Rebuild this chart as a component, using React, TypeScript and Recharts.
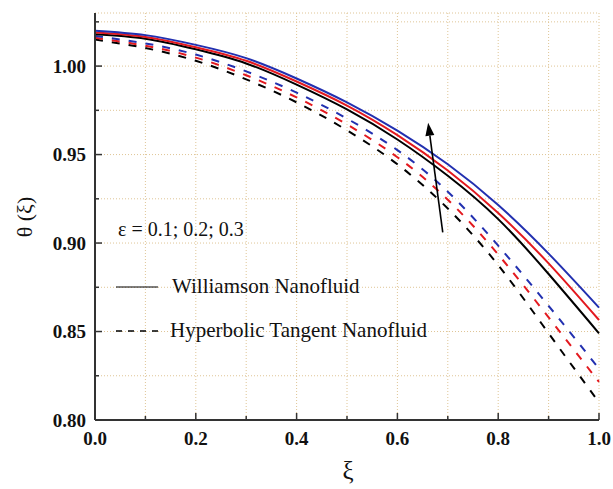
import { LineChart, Line, XAxis, YAxis, CartesianGrid, ReferenceLine, Customized } from "recharts";

const FONT = '"Liberation Serif", "Times New Roman", serif';

// values
const xi = [0, 0.1, 0.2, 0.3, 0.4, 0.5, 0.6, 0.7, 0.8, 0.9, 1.0];
const williamson01 = [1.018, 1.0155, 1.0095, 1.0015, 0.9895, 0.9755, 0.9585, 0.938, 0.9135, 0.8825, 0.849];
const williamson02 = [1.019, 1.0165, 1.0107, 1.003, 0.9913, 0.9777, 0.961, 0.941, 0.917, 0.8885, 0.8565];
const williamson03 = [1.02, 1.0175, 1.012, 1.0045, 0.993, 0.9795, 0.9635, 0.9445, 0.9215, 0.894, 0.8635];
const hyperbolic01 = [1.015, 1.0102, 1.003, 0.9925, 0.9795, 0.9637, 0.9445, 0.9195, 0.8875, 0.849, 0.81];
const hyperbolic02 = [1.016, 1.0115, 1.0048, 0.9948, 0.9823, 0.967, 0.9485, 0.9245, 0.8935, 0.858, 0.8215];
const hyperbolic03 = [1.017, 1.0128, 1.0065, 0.997, 0.985, 0.9703, 0.9525, 0.929, 0.8985, 0.8645, 0.829];

const xTicks = [0, 0.1, 0.2, 0.3, 0.4, 0.5, 0.6, 0.7, 0.8, 0.9, 1.0];
const yTicks = [0.8, 0.825, 0.85, 0.875, 0.9, 0.925, 0.95, 0.975, 1.0, 1.025];

const BLUE = "#2230b0";
const RED = "#e3191f";
const BLACK = "#000000";

const data = xi.map((x, i) => ({
  xi: x,
  w1: williamson01[i],
  w2: williamson02[i],
  w3: williamson03[i],
  h1: hyperbolic01[i],
  h2: hyperbolic02[i],
  h3: hyperbolic03[i],
}));

const PLOT_LEFT = 95;
const PLOT_BOTTOM = 420;

const isMajor = (v: number, step: number) => Math.abs(v / step - Math.round(v / step)) < 1e-6;

const YTick = ({ y, payload }: any) => {
  const major = isMajor(payload.value, 0.05);
  return (
    <g>
      <line x1={PLOT_LEFT} x2={PLOT_LEFT + (major ? 7 : 4)} y1={y} y2={y} stroke="#333" strokeWidth={1.5} />
      {major && (
        <text x={86} y={y} textAnchor="end" dominantBaseline="central" fontFamily={FONT} fontWeight="bold" fontSize={19} fill="#111">
          {payload.value.toFixed(2)}
        </text>
      )}
    </g>
  );
};

const XTick = ({ x, payload }: any) => {
  const major = isMajor(payload.value, 0.2);
  return (
    <g>
      <line x1={x} x2={x} y1={PLOT_BOTTOM} y2={PLOT_BOTTOM - (major ? 7 : 4)} stroke="#333" strokeWidth={1.5} />
      {major && (
        <text x={x} y={438} textAnchor="middle" dominantBaseline="central" fontFamily={FONT} fontWeight="bold" fontSize={19} fill="#111">
          {payload.value.toFixed(1)}
        </text>
      )}
    </g>
  );
};

const Arrow = ({ x1, y1, x2, y2 }: any) => {
  const dx = x2 - x1;
  const dy = y2 - y1;
  const len = Math.sqrt(dx * dx + dy * dy);
  const ux = dx / len;
  const uy = dy / len;
  const hl = 13;
  const hw = 4.5;
  const bx = x2 - ux * hl;
  const by = y2 - uy * hl;
  return (
    <g>
      <line x1={x1} y1={y1} x2={bx} y2={by} stroke="#000" strokeWidth={1.6} />
      <polygon
        points={`${x2},${y2} ${bx - uy * hw},${by + ux * hw} ${bx + uy * hw},${by - ux * hw}`}
        fill="#000"
      />
    </g>
  );
};

const Notes = () => (
  <g fontFamily={FONT} fill="#111">
    <text x={118} y={236} fontSize={20}>ε = 0.1; 0.2; 0.3</text>
    <line x1={116} x2={158} y1={287} y2={287} stroke="#000" strokeWidth={1} />
    <text x={172} y={293} fontSize={21}>Williamson Nanofluid</text>
    <line x1={116} x2={158} y1={331} y2={331} stroke="#000" strokeWidth={1.5} strokeDasharray="6 6" />
    <text x={170} y={337} fontSize={21}>Hyperbolic Tangent Nanofluid</text>
    <text x={24} y={217} fontSize={22} textAnchor="middle" dominantBaseline="central" transform="rotate(-90 24 217)">
      θ (ξ)
    </text>
    <text x={348} y={479} fontSize={25} textAnchor="middle">ξ</text>
  </g>
);

export default function App() {
  return (
    <div style={{ position: "absolute", left: 0, top: 0, background: "#fff" }}>
      <LineChart width={613} height={489} data={data} margin={{ top: 13, right: 14, left: 0, bottom: 0 }}>
        <CartesianGrid stroke="#dfc596" strokeDasharray="1 2" strokeWidth={1} />
        <XAxis
          dataKey="xi"
          type="number"
          domain={[0, 1]}
          ticks={xTicks}
          height={69}
          tickLine={false}
          axisLine={{ stroke: "#333", strokeWidth: 2 }}
          tick={<XTick />}
          interval={0}
        />
        <XAxis xAxisId="top" orientation="top" dataKey="xi" type="number" domain={[0, 1]} height={0} tick={false} tickLine={false} axisLine={{ stroke: "#333", strokeWidth: 1.5 }} />
        <YAxis
          type="number"
          domain={[0.8, 1.03]}
          ticks={yTicks}
          width={95}
          tickLine={false}
          axisLine={{ stroke: "#333", strokeWidth: 2 }}
          tick={<YTick />}
          interval={0}
          allowDataOverflow
        />
        <YAxis yAxisId="right" orientation="right" type="number" domain={[0.8, 1.03]} width={0} tick={false} tickLine={false} axisLine={{ stroke: "#333", strokeWidth: 1.5 }} />
        <Line type="natural" dataKey="h1" stroke={BLACK} strokeWidth={2} strokeDasharray="8 9" dot={false} isAnimationActive={false} />
        <Line type="natural" dataKey="h2" stroke={RED} strokeWidth={2} strokeDasharray="8 9" dot={false} isAnimationActive={false} />
        <Line type="natural" dataKey="h3" stroke={BLUE} strokeWidth={2} strokeDasharray="8 9" dot={false} isAnimationActive={false} />
        <Line type="natural" dataKey="w1" stroke={BLACK} strokeWidth={2} dot={false} isAnimationActive={false} />
        <Line type="natural" dataKey="w2" stroke={RED} strokeWidth={2} dot={false} isAnimationActive={false} />
        <Line type="natural" dataKey="w3" stroke={BLUE} strokeWidth={2} dot={false} isAnimationActive={false} />
        <ReferenceLine
          segment={[{ x: 0.69, y: 0.906 }, { x: 0.661, y: 0.968 }]}
          shape={<Arrow />}
        />
        <Customized component={<Notes />} />
      </LineChart>
    </div>
  );
}
